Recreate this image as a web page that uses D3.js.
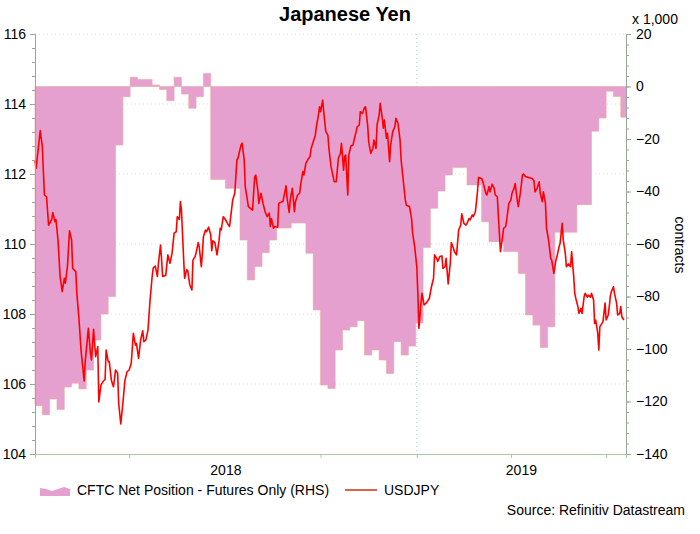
<!DOCTYPE html>
<html>
<head>
<meta charset="utf-8">
<script src="https://cdn.jsdelivr.net/npm/d3@7/dist/d3.min.js"></script>
<style>
  body { margin: 0; background: #fff; }
  text { font-family: Arial, 'Liberation Sans', sans-serif; }
</style>
</head>
<body>
<svg id="chart"></svg>
<script>
// weekly CFTC net position (thousand contracts), weeks from 1 Jan 2018
const cftcStart = '2018-01-01';
const cftcNet = [
  -121.6, -125, -119, -123, -114.5, -113, -115.2, -108, -96.6, -86.7,
  -80, -22.3, -3.9, 3.5, 2.7, 2.7, 0.6, -1.1, -5.4, 3.5,
  -2.9, -8.3, -3.9, 5, -35.4, -35.4, -38.8, -38.8, -58.5, -73.7,
  -68.6, -63.3, -58.5, -53.9, -53.9, -52, -52, -63.5, -85.1, -113.7,
  -115, -100.4, -92.8, -91.5, -89.2, -102.3, -100.4, -104.2, -109.3, -97.2,
  -102.3, -98.9, -90.1, -61.3, -46.4, -39.8, -33.7, -30.9, -30.9, -37.5,
  -37.5, -51.5, -59.1, -59.1, -62.9, -62.9, -71.2, -87, -90.9, -99.4,
  -91.5, -55.5, -55.5, -55.5, -45, -45, -17, -12, -1.8, -3.8, -11.7
];

// USDJPY: [days since 1 Jan 2018, rate]
const usdjpy = [
  [0,112.4],[1,112.16],[3,112.69],[5,113.24],[7,112.78],[9,111.4],[11,111.35],[13,110.54],
  [16,110.7],[17,110.9],[19,110.64],[20,110.7],[22,110.11],[24,109.07],[26,108.64],[28,109.02],
  [29,108.88],[31,109.35],[33,110.38],[35,110.11],[36,109.3],[39,109.21],[40,108.59],[42,107.88],
  [44,106.97],[47,106.09],[48,106.64],[51,107.59],[53,106.88],[54,106.69],[56,107.56],[58,106.78],
  [60,107.07],[61,105.49],[63,105.97],[65,106.07],[67,106.13],[68,106.97],[70,106.64],[71,106.64],
  [73,106.11],[75,105.92],[77,106.4],[79,106.31],[80,105.45],[82,104.86],[84,105.45],[86,106.11],
  [88,106.35],[90,106.4],[92,106.59],[94,107.45],[96,107.11],[97,107.16],[99,106.73],[101,107.26],
  [103,107.52],[104,107.21],[106,107.26],[108,107.54],[110,108.4],[112,109.07],[113,109.31],[115,109.37],
  [117,109.07],[118,109.45],[120,109.97],[121,109.56],[122,109.07],[125,109.11],[127,109.69],[129,109.45],
  [131,109.73],[133,110.31],[135,110.35],[136,110.78],[138,110.7],[139,111.21],[140,110.97],[142,109.64],
  [143,109.02],[145,109.26],[146,109.24],[148,108.83],[150,108.69],[151,109.54],[153,109.64],[154,109.75],
  [156,110.04],[157,109.92],[159,109.35],[160,109.73],[161,110.21],[163,110.4],[164,110.35],[166,110.48],
  [168,110.26],[169,109.81],[170,110.09],[172,110.04],[174,109.69],[176,110.11],[177,110.45],[178,110.4],
  [180,110.78],[182,110.7],[184,110.59],[186,110.5],[189,111.26],[191,111.45],[193,112.4],[194,112.45],
  [197,112.83],[198,112.88],[200,112.4],[201,111.64],[204,111.07],[206,111.02],[208,110.97],[210,111.92],
  [211,111.97],[213,111.54],[214,111.16],[216,111.45],[218,111.16],[220,110.92],[222,110.78],[224,110.88],
  [225,110.5],[226,110.73],[228,110.45],[229,110.5],[232,110.48],[233,111.16],[236,111.21],[237,111.21],
  [240,111.66],[241,111.31],[243,110.9],[244,111.26],[246,111.59],[248,110.92],[249,111.21],[251,111.4],
  [253,111.45],[254,111.69],[256,112.07],[257,111.97],[259,112.31],[261,112.42],[263,112.5],[264,112.73],
  [266,112.92],[268,113.11],[269,113.35],[271,113.69],[272,113.92],[273,113.78],[275,114.11],[276,113.78],
  [278,113.21],[280,113.11],[281,112.73],[283,112.21],[284,112.07],[286,111.78],[288,111.78],[289,112.11],
  [290,112.45],[292,112.59],[293,112.88],[295,112.11],[296,112.5],[297,112.54],[299,111.4],[300,112.54],
  [302,112.8],[304,112.83],[305,112.97],[307,113.21],[308,113.35],[310,113.4],[311,113.78],[313,113.73],
  [315,113.9],[316,113.92],[318,113.4],[319,112.92],[321,112.59],[323,112.73],[324,112.97],[326,112.73],
  [327,113.4],[329,113.69],[330,114.02],[332,113.59],[333,113.31],[334,113.54],[336,113.02],[337,113.16],
  [339,112.35],[340,112.83],[342,113.21],[344,113.35],[345,113.59],[347,113.45],[349,112.97],[350,112.4],
  [352,111.83],[354,111.26],[355,111.11],[358,111.07],[360,110.73],[361,110.31],[363,109.92],[365,109.35],
  [366,108.59],[367,107.59],[369,108.31],[370,108.59],[372,108.26],[374,108.31],[376,108.4],[377,108.45],
  [379,108.78],[381,109.02],[382,109.69],[384,109.59],[385,109.5],[387,109.64],[389,109.66],[390,109.3],
  [392,109.35],[393,109.59],[395,108.86],[397,109.45],[398,110.04],[400,109.88],[401,109.78],[403,109.69],
  [405,110.4],[407,110.54],[408,110.86],[410,110.59],[412,110.54],[413,110.59],[415,110.73],[416,110.69],
  [418,110.83],[419,110.78],[421,110.92],[423,111.49],[424,111.9],[426,111.88],[427,111.88],[429,111.69],
  [431,111.45],[432,111.4],[434,111.64],[435,111.49],[437,111.71],[439,111.59],[440,111.4],[442,111.35],
  [443,110.78],[445,109.78],[447,110.21],[448,110.45],[450,110.5],[451,110.7],[453,111.16],[455,111.26],
  [456,111.45],[458,111.59],[459,111.73],[461,111.26],[462,111.07],[464,111.45],[466,111.97],[467,112],
  [469,111.92],[470,111.92],[472,111.9],[474,111.88],[475,111.88],[477,111.81],[478,111.49],[480,111.59],
  [482,111.78],[483,111.45],[485,111.21],[486,111.49],[488,111.16],[489,110.45],[491,110.11],[493,109.59],
  [494,109.54],[496,109.16],[498,109.54],[499,109.64],[501,109.92],[502,110.02],[504,110.59],[505,110.11],
  [507,109.73],[508,109.35],[510,109.43],[512,109.35],[513,109.78],[515,109.07],[516,108.59],[517,108.45],
  [519,108.21],[520,108.02],[522,108.16],[523,108.02],[525,108.5],[526,108.59],[528,108.48],[529,108.54],
  [531,108.48],[532,108.59],[534,108.4],[535,107.73],[536,107.83],[538,107.45],[539,106.97],[540,107.64],
  [542,107.73],[543,107.78],[545,108.31],[546,107.83],[548,107.97],[549,108.21],[550,108.5],[551,108.64],
  [553,108.78],[554,108.59],[556,108.31],[557,107.97],[559,108.02],[560,108.21],[561,107.92],[563,107.83]
];

const dateRange = ['2018-01-01', '2019-07-20'];
const leftTicks = [104, 106, 108, 110, 112, 114, 116];
const rightTicks = [-140, -120, -100, -80, -60, -40, -20, 0, 20];
const quarterTicks = ['2018-04-01', '2018-10-01', '2019-01-01', '2019-04-01', '2019-07-01'];
const yearStarts = ['2018-01-01', '2019-01-01', '2020-01-01'];
const yearLabels = ['2018', '2019'];
const gridDates = ['2019-01-01'];

const W = 700, H = 534;
const m = { top: 34, right: 74, bottom: 80, left: 35 };
const parse = d3.timeParse('%Y-%m-%d');
const t0 = parse(dateRange[0]);

const svg = d3.select('#chart').attr('width', W).attr('height', H);

const x = d3.scaleTime().domain(dateRange.map(parse)).range([m.left, W - m.right]);
const yL = d3.scaleLinear().domain([104, 116]).range([H - m.bottom, m.top]);
const yR = d3.scaleLinear().domain([-140, 20]).range([H - m.bottom, m.top]);

// title
svg.append('text')
  .attr('x', 345).attr('y', 21)
  .attr('text-anchor', 'middle')
  .style('font-size', '20px').style('font-weight', 'bold')
  .text('Japanese Yen');

// grid
const grid = svg.append('g').attr('stroke', '#e6dc9a').attr('stroke-dasharray', '1,3');
grid.selectAll('.hg').data(leftTicks.slice(1)).join('line')
  .attr('x1', m.left).attr('x2', W - m.right)
  .attr('y1', d => yL(d)).attr('y2', d => yL(d));
grid.selectAll('.vg').data(gridDates).join('line')
  .attr('x1', d => x(parse(d))).attr('x2', d => x(parse(d)))
  .attr('y1', m.top).attr('y2', H - m.bottom)
  .attr('stroke', '#b8d4c0');

// CFTC area (step)
const cftc = cftcNet.map((v, i) => ({ date: d3.timeDay.offset(t0, 7 * i), v }));
cftc.push({ date: x.domain()[1], v: cftcNet[cftcNet.length - 1] });

const area = d3.area()
  .curve(d3.curveStepAfter)
  .x(d => x(d.date))
  .y0(yR(0))
  .y1(d => yR(d.v));

svg.append('path')
  .datum(cftc)
  .attr('d', area)
  .attr('fill', '#e6a0d0')
  .attr('stroke', '#eaa898')
  .attr('stroke-width', 0.6);

// USDJPY line
const line = d3.line()
  .x(d => x(d3.timeDay.offset(t0, d[0])))
  .y(d => yL(d[1]));

svg.append('path')
  .datum(usdjpy)
  .attr('d', line)
  .attr('fill', 'none')
  .attr('stroke', '#ff0000')
  .attr('stroke-width', 1.6)
  .attr('stroke-linejoin', 'round');

// axes
function styleAxis(g, col) {
  g.select('.domain').attr('stroke', col);
  g.selectAll('.tick line').attr('stroke', col);
  g.selectAll('.tick text').attr('fill', '#000').style('font-size', '14px');
}

svg.append('g')
  .attr('transform', 'translate(' + m.left + ',0)')
  .call(d3.axisLeft(yL).tickValues(d3.range(104, 116.01, 0.4)).tickSize(3).tickFormat(''))
  .call(g => styleAxis(g, '#9aa59a'));
svg.append('g')
  .attr('transform', 'translate(' + m.left + ',0)')
  .call(d3.axisLeft(yL).tickValues(leftTicks).tickSize(5).tickPadding(4))
  .call(g => styleAxis(g, '#9aa59a'));

svg.append('g')
  .attr('transform', 'translate(' + (W - m.right) + ',0)')
  .call(d3.axisRight(yR).tickValues(d3.range(-140, 20.1, 4)).tickSize(3).tickFormat(''))
  .call(g => styleAxis(g, '#9aa59a'));
svg.append('g')
  .attr('transform', 'translate(' + (W - m.right) + ',0)')
  .call(d3.axisRight(yR).tickValues(rightTicks).tickSize(5).tickPadding(5))
  .call(g => styleAxis(g, '#9aa59a'));

svg.append('g')
  .attr('transform', 'translate(0,' + (H - m.bottom) + ')')
  .call(d3.axisBottom(x).tickValues(quarterTicks.map(parse)).tickSize(4).tickFormat(''))
  .call(g => styleAxis(g, '#a8c8a0'));

// year labels centred on the visible part of each year
const [d0, d1] = x.domain();
svg.selectAll('.year').data(yearLabels).join('text')
  .attr('x', (d, i) => {
    const a = Math.max(+parse(yearStarts[i]), +d0);
    const b = Math.min(+parse(yearStarts[i + 1]), +d1);
    return (x(new Date(a)) + x(new Date(b))) / 2;
  })
  .attr('y', H - m.bottom + 21)
  .attr('text-anchor', 'middle')
  .style('font-size', '14px')
  .text(d => d);

// right axis captions
svg.append('text')
  .attr('x', 632).attr('y', 24)
  .style('font-size', '14px')
  .text('x 1,000');
svg.append('text')
  .attr('transform', 'translate(675,245) rotate(90)')
  .attr('text-anchor', 'middle')
  .style('font-size', '14px')
  .text('contracts');

// legend
const lg = svg.append('g').attr('transform', 'translate(0,490)');
lg.append('path')
  .attr('d', 'M40,6 L40,-2 L46,-1 L52,1 L58,-1 L64,-3 L70,-1 L70,6 Z')
  .attr('fill', '#e6a0d0');
lg.append('text').attr('x', 77).attr('y', 5).style('font-size', '14px')
  .text('CFTC Net Position - Futures Only (RHS)');
lg.append('line')
  .attr('x1', 345).attr('x2', 377).attr('y1', 0).attr('y2', 0)
  .attr('stroke', '#d03010').attr('stroke-width', 1.5);
lg.append('text').attr('x', 384).attr('y', 5).style('font-size', '14px')
  .text('USDJPY');

svg.append('text')
  .attr('x', 685).attr('y', 515)
  .attr('text-anchor', 'end')
  .style('font-size', '14px')
  .text('Source: Refinitiv Datastream');
</script>
</body>
</html>
